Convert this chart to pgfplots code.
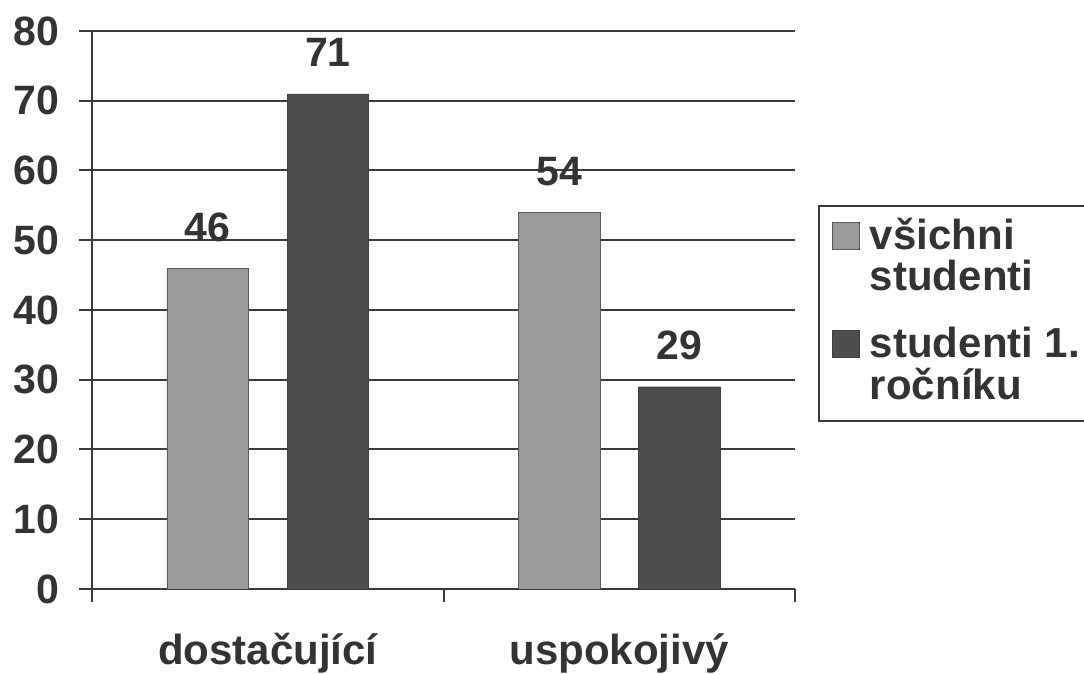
\documentclass[border=0pt]{standalone}
\usepackage{fontspec}
\setmainfont{Liberation Sans}
\usepackage{pgfplots}
\pgfplotsset{compat=1.18}
\definecolor{lightbar}{HTML}{9A9A9A}
\definecolor{darkbar}{HTML}{4D4D4D}
\definecolor{txt}{HTML}{333333}
\definecolor{gridc}{HTML}{3A3A3A}
\newcommand\bigf{\fontsize{42}{34}\selectfont\bfseries}
\newcommand\tickf{\fontsize{41}{41}\selectfont\bfseries}
\pgfplotsset{sqlegend/.style={legend image code/.code={\draw[##1, line width=1pt] (0pt,0pt) rectangle (27pt,27pt);}}}
\begin{document}
\begin{tikzpicture}[x=1pt,y=1pt]
\useasboundingbox (-92,-85) rectangle (992,589);
\begin{axis}[
  scale only axis, width=703pt, height=558pt,
  at={(0,0)}, anchor=south west,
  xmin=-0.5, xmax=1.5, ymin=0, ymax=80,
  ytick={0,10,...,80},
  xtick={-0.5,0.5,1.5}, xticklabels={},
  extra x ticks={0,1}, extra x tick labels={dostačující,uspokojivý},
  extra x tick style={major tick length=0pt, tick label style={font=\bigf, text=txt, anchor=base, yshift=-75pt}},
  axis lines=left, axis line style={-, gridc, line width=2pt},
  tick align=outside, major tick length=13pt,
  tick style={gridc, line width=2pt},
  ymajorgrids, grid style={gridc, line width=2pt},
  yticklabel style={font=\tickf, text=txt, anchor=east, xshift=-16pt},
  /pgf/number format/assume math mode=true,
  ybar, bar width=0.232,
  nodes near coords, nodes near coords style={font=\tickf, text=txt, anchor=base, yshift=27pt},
  legend style={at={(rel axis cs:1.0327,0.688)}, anchor=north west, draw=gridc, line width=2pt, inner xsep=13pt, inner ysep=12pt, row sep=27pt, column sep=10pt, font=\bigf, text=txt, nodes={inner sep=0pt, text depth=}, cells={anchor=base west}},
]
\addplot[fill=lightbar, draw=gray!70!black, bar shift=-0.171, sqlegend] coordinates {(0,46) (1,54)};
\addlegendentry{\begin{tabular}[t]{@{}l@{}}všichni\\studenti\end{tabular}}
\addplot[fill=darkbar, draw=darkbar!80!black, bar shift=0.171, sqlegend] coordinates {(0,71) (1,29)};
\addlegendentry{\begin{tabular}[t]{@{}l@{}}studenti 1.\\ročníku\end{tabular}}
\end{axis}
\end{tikzpicture}
\end{document}
